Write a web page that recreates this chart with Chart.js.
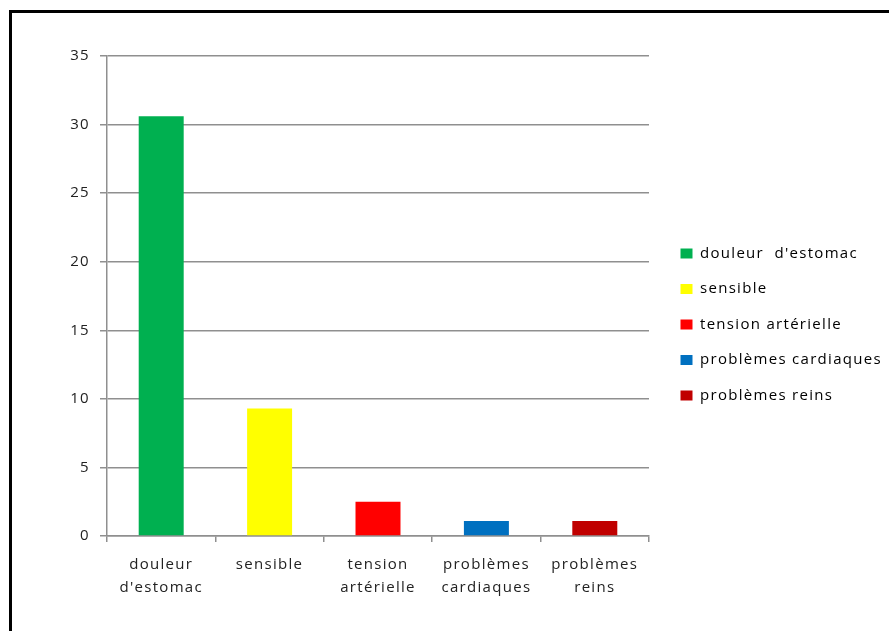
<!DOCTYPE html>
<html>
<head>
<meta charset="utf-8">
<script src="https://cdn.jsdelivr.net/npm/chart.js@4/dist/chart.umd.min.js"></script>
<style>
  html, body { margin: 0; padding: 0; background: #fff; overflow: hidden; }
  #frame { position: absolute; left: 9px; top: 10px; width: 900px; height: 700px; border: 3px solid #000; }
  #wrap { position: absolute; left: 0; top: 0; width: 889px; height: 631px; }
</style>
</head>
<body>
<div id="frame"></div>
<div id="wrap"><canvas id="chart"></canvas></div>
<script>
// Chart data
const categories = [
    ['douleur', "d'estomac"],
    ['sensible'],
    ['tension', 'artérielle'],
    ['problèmes', 'cardiaques'],
    ['problèmes', 'reins']
];
const legendNames = ["douleur  d'estomac", 'sensible', 'tension artérielle', 'problèmes cardiaques', 'problèmes reins'];
const values = [30.6, 9.3, 2.5, 1.1, 1.1];
const barColors = ['#00B050', '#FFFF00', '#FF0000', '#0070C0', '#C00000'];
const yTicks = [0, 5, 10, 15, 20, 25, 30, 35];

const gridColor = '#8f8f8f';
const textFont = { family: "'Open Sans', sans-serif", size: 15 };
const legendWidth = 240;   // chart area ends at 649
const legendShiftX = 11;   // legend swatches start at 682
const legendShiftY = -19;  // legend centred a bit above the middle

// canvas resets its state on resize, so set the spacing before layout and draw
const spacingPlugin = {
    id: 'spacing',
    afterInit(chart) {
        // fixed legend width so the plot area keeps its size
        const fit = chart.legend.fit;
        chart.legend.fit = function () {
            fit.call(this);
            this.width = legendWidth;
        };
    },
    beforeLayout(chart) { chart.ctx.letterSpacing = '1.3px'; },
    afterLayout(chart) {
        const lg = chart.legend;
        lg.left += legendShiftX;
        lg.right += legendShiftX;
        lg.top += legendShiftY;
        lg.bottom += legendShiftY;
    },
    beforeDraw(chart) { chart.ctx.letterSpacing = '1.3px'; }
};

new Chart(document.getElementById('chart'), {
    type: 'bar',
    data: {
        labels: categories,
        datasets: [{
            data: values,
            backgroundColor: barColors,
            borderWidth: 0,
            barPercentage: 0.415,
            categoryPercentage: 1
        }]
    },
    plugins: [spacingPlugin],
    options: {
        responsive: true,
        maintainAspectRatio: false,
        animation: false,
        layout: { padding: { left: 0, top: 56, right: 0, bottom: 0 } },
        scales: {
            x: {
                grid: { display: true, drawOnChartArea: false, tickLength: 6, color: gridColor, lineWidth: 1.5 },
                border: { color: gridColor, width: 1.5 },
                ticks: { color: '#222', font: { ...textFont, lineHeight: 1.55 }, padding: 11, maxRotation: 0 },
                afterFit(scale) { scale.height = 95; }
            },
            y: {
                min: 0,
                max: 35,
                afterBuildTicks(scale) { scale.ticks = yTicks.map(v => ({ value: v })); },
                grid: { color: gridColor, lineWidth: 1.5, tickLength: 7 },
                border: { color: gridColor, width: 1.5 },
                ticks: { color: '#222', font: textFont, padding: 10 },
                afterFit(scale) { scale.width = 107; }
            }
        },
        plugins: {
            tooltip: { enabled: false },
            legend: {
                position: 'right',
                labels: {
                    color: '#222',
                    font: textFont,
                    boxWidth: 12,
                    boxHeight: 10,
                    padding: 20.5,
                    generateLabels(chart) {
                        return legendNames.map((name, i) => ({
                            text: name,
                            fillStyle: barColors[i],
                            strokeStyle: barColors[i],
                            lineWidth: 0,
                            hidden: false,
                            index: i
                        }));
                    }
                }
            }
        }
    }
});
</script>
</body>
</html>
